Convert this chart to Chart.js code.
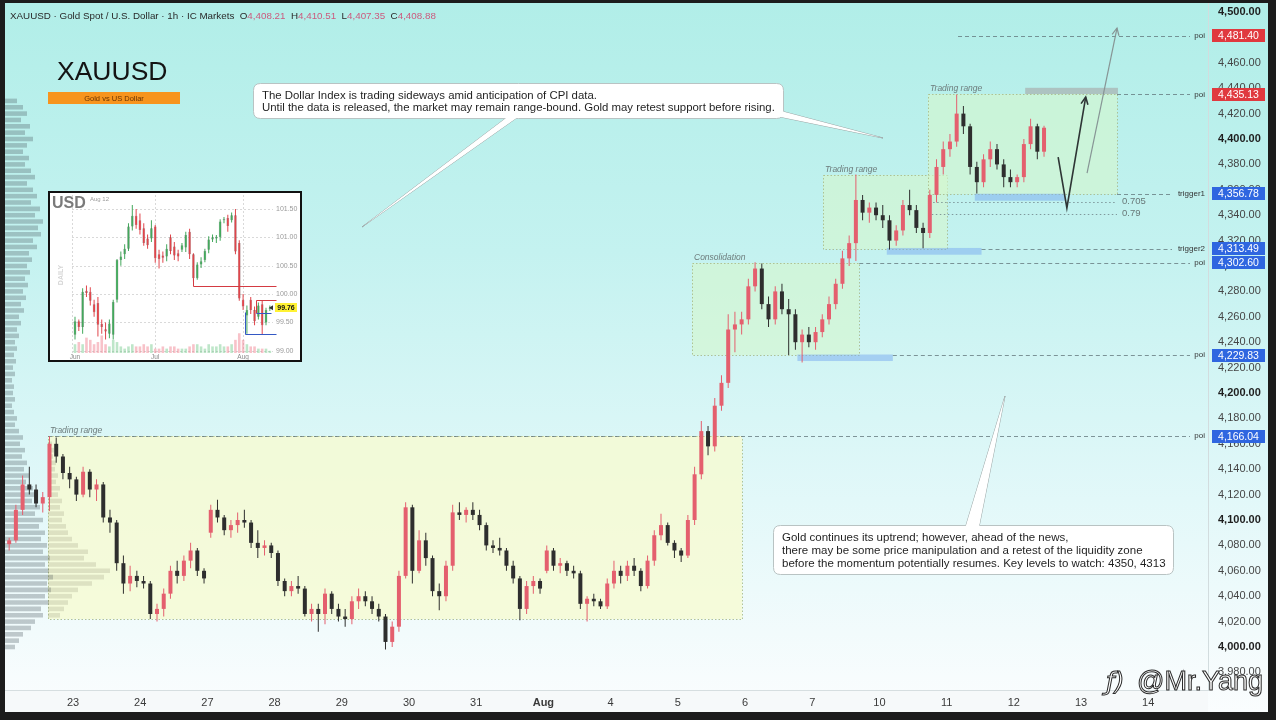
<!DOCTYPE html>
<html><head><meta charset="utf-8">
<script src="https://cdn.jsdelivr.net/npm/chart.js@4.4.1/dist/chart.umd.min.js"></script>
<style>
html,body{margin:0;padding:0;background:#1c1c1c;width:1276px;height:720px;overflow:hidden}
#main{position:absolute;left:0;top:0;display:block}
#insetWrap{position:absolute;left:48px;top:191px;width:250px;height:167px;border:2px solid #111;background:#fff}
#inset{display:block}
</style></head><body>
<canvas id="main" width="1276" height="720"></canvas>
<div id="insetWrap"><canvas id="inset" width="250" height="167"></canvas></div>
<script>
// ---------------- DATA: XAUUSD (2-hour style candles, 10 per session day) ----------------
const dayLabels = ['23','24','27','28','29','30','31','Aug','4','5','6','7','10','11','12','13','14'];
const candlesPerDay = 10;
const open = [4081,4084,4108,4128,4124,4113,4118,4160,4150,4137, 4132,4120,4138,4124,4128,4102,4098,4066,4050,4056, 4052,4050,4026,4030,4042,4060,4056,4068,4076,4060, 4090,4108,4102,4092,4096,4100,4098,4082,4078,4080, 4074,4052,4044,4048,4046,4026,4030,4026,4042,4030, 4024,4022,4036,4040,4036,4030,4024,4004,4016,4056, 4110,4060,4084,4070,4044,4040,4064,4106,4104,4108, 4104,4096,4080,4078,4076,4064,4054,4030,4048,4052, 4060,4076,4064,4066,4060,4058,4034,4038,4036,4032, 4050,4060,4056,4064,4060,4048,4068,4088,4096,4082, 4076,4072,4100,4136,4170,4158,4190,4208,4250,4254, 4258,4284,4298,4270,4258,4280,4266,4262,4240,4246, 4240,4248,4258,4270,4286,4306,4318,4352,4342,4346, 4340,4336,4320,4328,4348,4344,4330,4326,4356,4378, 4392,4398,4420,4410,4378,4366,4384,4392,4380,4370, 4366,4370,4396,4410,4390];
const high = [4086,4112,4135,4142,4128,4122,4166,4165,4152,4142, 4134,4142,4140,4132,4130,4108,4100,4072,4064,4060, 4056,4052,4034,4046,4064,4068,4072,4082,4078,4062, 4112,4116,4104,4100,4106,4108,4100,4092,4084,4082, 4076,4054,4052,4056,4048,4034,4034,4046,4044,4034, 4030,4040,4046,4044,4040,4034,4026,4020,4060,4114, 4112,4092,4090,4072,4050,4068,4112,4114,4110,4114, 4108,4098,4084,4086,4078,4068,4056,4052,4056,4054, 4080,4078,4070,4068,4064,4060,4040,4042,4038,4054, 4068,4064,4068,4070,4062,4072,4092,4105,4098,4084, 4078,4104,4142,4178,4174,4196,4214,4262,4264,4264, 4290,4303,4302,4276,4284,4286,4274,4266,4250,4252, 4252,4262,4276,4290,4312,4324,4372,4356,4350,4350, 4348,4340,4332,4352,4360,4348,4334,4360,4384,4398, 4404,4435,4426,4412,4382,4388,4398,4396,4384,4376, 4372,4400,4416,4412,4410.51];
const low = [4076,4082,4104,4120,4110,4106,4107,4145,4132,4125, 4115,4118,4118,4115,4098,4090,4060,4042,4044,4047, 4046,4022,4020,4024,4038,4050,4052,4062,4056,4050, 4086,4098,4088,4086,4090,4094,4078,4070,4072,4070, 4048,4040,4040,4042,4024,4020,4012,4018,4026,4020, 4016,4018,4030,4032,4026,4020,3998,4000,4012,4054, 4050,4058,4064,4040,4029,4036,4060,4100,4098,4100, 4092,4076,4074,4072,4060,4050,4021,4026,4042,4042, 4058,4060,4058,4056,4054,4030,4020,4032,4030,4030, 4046,4050,4052,4056,4044,4046,4064,4084,4080,4070, 4067,4070,4096,4132,4151,4154,4186,4204,4232,4246, 4254,4280,4266,4252,4254,4262,4230,4234,4224,4236, 4234,4244,4254,4266,4282,4300,4304,4336,4334,4336, 4330,4313,4316,4324,4340,4326,4314,4322,4350,4372, 4386,4394,4404,4372,4357,4362,4378,4376,4362,4362, 4362,4366,4392,4384,4386];
const close = [4084,4108,4128,4124,4113,4118,4160,4150,4137,4132, 4120,4138,4124,4128,4102,4098,4066,4050,4056,4052, 4050,4026,4030,4042,4060,4056,4068,4076,4060,4054, 4108,4102,4092,4096,4100,4098,4082,4078,4080,4074, 4052,4044,4048,4046,4026,4030,4026,4042,4030,4024, 4022,4036,4040,4036,4030,4024,4004,4016,4056,4110, 4060,4084,4070,4044,4040,4064,4106,4104,4108,4104, 4096,4080,4078,4076,4064,4054,4030,4048,4052,4046, 4076,4064,4066,4060,4058,4034,4038,4036,4032,4050, 4060,4056,4064,4060,4048,4068,4088,4096,4082,4076, 4072,4100,4136,4170,4158,4190,4208,4250,4254,4258, 4284,4298,4270,4258,4280,4266,4262,4240,4246,4240, 4248,4258,4270,4286,4306,4318,4352,4342,4346,4340, 4336,4320,4328,4348,4344,4330,4326,4356,4378,4392, 4398,4420,4410,4378,4366,4384,4392,4380,4370,4366, 4370,4396,4410,4390,4408.88];
const headerOHLC = [4408.21, 4410.51, 4407.35, 4408.88];
const priceTicks = [3980,4000,4020,4040,4060,4080,4100,4120,4140,4160,4180,4200,4220,4240,4260,4280,4300,4320,4340,4360,4380,4400,4420,4440,4460,4480,4500];

// key levels
const levelPrices = [4481.40, 4435.13, 4356.78, 4313.49, 4302.60, 4229.83, 4166.04];
const levelNames  = ['poi','poi','trigger1','trigger2','poi','poi','poi'];
const levelSide   = ['sell','sell','buy','buy','buy','buy','buy'];
const fibNames  = ['0.705','0.79'];
const fibPrices = [4350.6, 4341.2];

// volume profile (session, left edge)
const profilePrices = [4430,4425,4420,4415,4410,4405,4400,4395,4390,4385,4380,4375,4370,4365,4360,4355,4350,4345,4340,4335,4330,4325,4320,4315,4310,4305,4300,4295,4290,4285,4280,4275,4270,4265,4260,4255,4250,4245,4240,4235,4230,4225,4220,4215,4210,4205,4200,4195,4190,4185,4180,4175,4170,4165,4160,4155,4150,4145,4140,4135,4130,4125,4120,4115,4110,4105,4100,4095,4090,4085,4080,4075,4070,4065,4060,4055,4050,4045,4040,4035,4030,4025,4020,4015,4010,4005,4000];
const profileVol = [12,18,22,16,25,20,28,22,18,24, 20,26,30,22,28,32,26,35,30,38, 33,36,28,32,24,27,22,25,20,23, 18,21,16,19,14,16,12,14,10,12, 9,11,8,10,7,9,8,10,7,9, 12,10,14,18,15,20,17,22,19,24, 21,28,32,27,35,30,38,34,40,36, 42,38,45,40,44,48,42,46,40,44, 36,38,30,26,18,14,10];
// volume profile of the first trading range
const rangeProfilePrices = [4160,4155,4150,4145,4140,4135,4130,4125,4120,4115,4110,4105,4100,4095,4090,4085,4080,4075,4070,4065,4060,4055,4050,4045,4040,4035,4030,4025];
const rangeProfileVol = [4,6,5,8,7,10,8,12,10,14,12,16,14,18,20,24,30,40,36,48,62,56,44,30,24,20,16,12];

// ---------------- DATA: USD index inset (daily) ----------------
const usdMonthLabels = ['Jun','Jul','Aug'];
const usdMonthStart = [0, 21, 44];
const usdTicks = [99.00, 99.50, 100.00, 100.50, 101.00, 101.50];
const usdOpen  = [99.28,99.52,99.42,100.06,100.04,99.82,99.84,99.47,99.38,99.30,99.28,99.90,100.60,100.70,100.80,101.19,101.38,101.30,101.16,100.98,100.98,101.19,100.70,100.68,100.66,101.00,100.84,100.72,100.78,100.82,101.10,100.70,100.28,100.52,100.60,100.78,100.96,100.98,101.00,101.30,101.34,101.30,101.39,100.90,99.90,99.62,99.90,99.72,99.60,99.82,99.50,99.74];
const usdHigh  = [99.60,99.55,100.10,100.15,100.12,99.90,99.95,99.55,99.50,99.55,99.90,100.62,100.75,100.88,101.25,101.57,101.50,101.42,101.25,101.05,101.30,101.22,100.78,100.75,100.88,101.05,100.92,100.78,100.90,101.10,101.15,100.72,100.56,100.65,100.80,101.02,101.05,101.04,101.32,101.36,101.40,101.44,101.50,100.95,100.00,99.80,99.95,99.78,99.85,99.88,99.76,99.80];
const usdLow   = [99.20,99.35,99.30,99.95,99.80,99.60,99.25,99.30,99.20,99.22,99.20,99.85,100.50,100.62,100.76,101.12,101.15,101.05,100.85,100.80,100.92,100.55,100.45,100.55,100.58,100.70,100.60,100.58,100.74,100.74,100.62,100.22,100.25,100.46,100.56,100.72,100.92,100.90,100.94,101.25,101.10,101.26,100.70,99.88,99.72,99.30,99.65,99.45,99.55,99.28,99.45,99.70];
const usdClose = [99.52,99.42,100.04,100.02,99.88,99.68,99.46,99.42,99.34,99.48,99.86,100.60,100.66,100.80,101.19,101.38,101.22,101.13,100.90,100.86,101.16,100.63,100.62,100.64,100.80,100.76,100.68,100.66,100.86,101.04,100.70,100.28,100.52,100.58,100.76,100.96,101.00,101.01,101.28,101.32,101.20,101.39,100.75,99.92,99.78,99.72,99.72,99.52,99.80,99.45,99.72,99.76];
const usdVol   = [4,5,4,7,6,4,5,8,4,3, 6,5,3,2,3,4,3,3,4,3, 4,2,2,3,2,3,3,2,2,2, 3,4,4,3,2,4,3,3,4,3, 3,4,6,9,6,4,3,3,2,2, 2,1];

// ---------------- STYLE / ANNOTATION CONFIG ----------------
const fam = '"Liberation Sans", Arial, Helvetica, sans-serif';
Chart.defaults.font.family = fam;
const upColor = '#e45f6e', downColor = '#2e2e2e';
const fmt = v => v.toLocaleString('en-US', {minimumFractionDigits:2, maximumFractionDigits:2});

const rangeBoxes = [
  {name:'Trading range', t0:0.628, t1:10.96, top:4166.04, bottom:4022.0, fill:'rgba(246,250,212,0.85)'},
  {name:'Consolidation', t0:10.211, t1:12.70, top:4302.60, bottom:4229.83, fill:'rgba(214,246,205,0.6)'},
  {name:'Trading range', t0:12.161, t1:14.006, top:4371.6, bottom:4313.49, fill:'rgba(214,246,205,0.6)'},
  {name:'Trading range', t0:13.723, t1:16.536, top:4435.13, bottom:4356.78, fill:'rgba(214,246,205,0.6)'}
];
const liquidityZones = [
  {t0:11.78, t1:13.20, p0:4230.3, p1:4225.2, color:'rgba(120,170,240,0.5)'},
  {t0:13.11, t1:14.52, p0:4314.2, p1:4308.9, color:'rgba(120,170,240,0.5)'},
  {t0:14.42, t1:15.76, p0:4356.9, p1:4351.4, color:'rgba(120,170,240,0.5)'},
  {t0:15.17, t1:16.55, p0:4440.3, p1:4435.4, color:'rgba(165,165,165,0.6)'}
];
const levelStartT = [14.17, 16.536, 16.536, 14.52, 12.70, 13.20, 0.628];
const fibStartT = [13.80, 13.78];
const fibEndT = 16.536;

const candleColors = close.map((c,i) => c >= open[i] ? upColor : downColor);
const xOf = i => (i + 0.5) / candlesPerDay;

function roundRect(c, x, y, w, h, r) {
  c.beginPath();
  c.moveTo(x + r, y); c.lineTo(x + w - r, y); c.quadraticCurveTo(x + w, y, x + w, y + r);
  c.lineTo(x + w, y + h - r); c.quadraticCurveTo(x + w, y + h, x + w - r, y + h);
  c.lineTo(x + r, y + h); c.quadraticCurveTo(x, y + h, x, y + h - r);
  c.lineTo(x, y + r); c.quadraticCurveTo(x, y, x + r, y); c.closePath();
}
function arrowHead(c, x, y, ang, len) {
  c.beginPath();
  c.moveTo(x - len * Math.cos(ang - 0.45), y - len * Math.sin(ang - 0.45));
  c.lineTo(x, y);
  c.lineTo(x - len * Math.cos(ang + 0.45), y - len * Math.sin(ang + 0.45));
  c.stroke();
}
function callout(c, box, wedges, lines, size) {
  c.save();
  c.lineWidth = 1;
  wedges.forEach(w => {
    c.beginPath(); c.moveTo(w[0][0], w[0][1]); c.lineTo(w[1][0], w[1][1]); c.lineTo(w[2][0], w[2][1]); c.closePath();
    c.fillStyle = '#ffffff'; c.fill(); c.strokeStyle = '#9aa6a6'; c.stroke();
  });
  roundRect(c, box[0] + 0.5, box[1] + 0.5, box[2], box[3], 7);
  c.fillStyle = '#ffffff'; c.fill(); c.strokeStyle = '#b9c3c3'; c.stroke();
  wedges.forEach(w => {
    c.beginPath(); c.moveTo(w[0][0], w[0][1]); c.lineTo(w[1][0], w[1][1]); c.lineTo(w[2][0], w[2][1]); c.closePath();
    c.fillStyle = '#ffffff'; c.fill();
  });
  c.fillStyle = '#1f1f1f'; c.font = size + 'px ' + fam; c.textAlign = 'left'; c.textBaseline = 'alphabetic';
  lines.forEach((t, k) => c.fillText(t[0], box[0] + 9, t[1]));
  c.restore();
}

const decor = {
  id: 'decor',
  beforeDraw(chart) {
    const c = chart.ctx;
    c.save();
    c.fillStyle = '#1c1c1c'; c.fillRect(0, 0, chart.width, chart.height);
    const g = c.createLinearGradient(0, 3, 0, 712);
    g.addColorStop(0, '#b1eee8'); g.addColorStop(0.35, '#c4f2f0'); g.addColorStop(0.7, '#e2f8f9'); g.addColorStop(0.95, '#f7fcfd'); g.addColorStop(1, '#fafdfe');
    c.fillStyle = g; c.fillRect(5, 3, 1263, 709);
    c.fillStyle = '#f6f9fa'; c.fillRect(5, 690, 1203, 22);
    c.restore();
  },
  beforeDatasetsDraw(chart) {
    const c = chart.ctx, xs = chart.scales.x, ys = chart.scales.y;
    const X = t => xs.getPixelForValue(t), Y = p => ys.getPixelForValue(p);
    c.save();
    rangeBoxes.forEach(b => {
      const x0 = Math.round(X(b.t0)), x1 = Math.round(X(b.t1)), y0 = Math.round(Y(b.top)), y1 = Math.round(Y(b.bottom));
      c.fillStyle = b.fill; c.fillRect(x0, y0, x1 - x0, y1 - y0);
      c.strokeStyle = 'rgba(170,188,140,0.9)'; c.lineWidth = 1; c.setLineDash([1.5, 2]);
      c.strokeRect(x0 + 0.5, y0 + 0.5, x1 - x0, y1 - y0);
      c.setLineDash([]);
      c.font = 'italic 8.5px ' + fam; c.fillStyle = '#6d7c7c'; c.textAlign = 'left'; c.textBaseline = 'alphabetic';
      c.fillText(b.name, x0 + 2, y0 - 3);
    });
    liquidityZones.forEach(z => {
      const x0 = X(z.t0), x1 = X(z.t1), y0 = Y(z.p0), y1 = Y(z.p1);
      c.fillStyle = z.color; c.fillRect(x0, y0, x1 - x0, y1 - y0);
    });
    c.lineWidth = 1;
    levelPrices.forEach((p, k) => {
      const y = Math.round(Y(p)) + 0.5, x0 = X(levelStartT[k]), x1 = levelNames[k] === 'poi' ? 1190 : 1172;
      c.strokeStyle = 'rgba(95,115,120,0.75)'; c.setLineDash([4, 3]);
      c.beginPath(); c.moveTo(x0, y); c.lineTo(x1, y); c.stroke();
    });
    fibPrices.forEach((p, k) => {
      const y = Math.round(Y(p)) + 0.5;
      c.strokeStyle = 'rgba(110,130,135,0.8)'; c.setLineDash([1.5, 2.5]);
      c.beginPath(); c.moveTo(X(fibStartT[k]), y); c.lineTo(X(fibEndT), y); c.stroke();
    });
    c.restore();
  },
  afterDatasetsDraw(chart) {
    const c = chart.ctx, xs = chart.scales.x, ys = chart.scales.y;
    const X = t => xs.getPixelForValue(t), Y = p => ys.getPixelForValue(p);
    c.save();
    // fib labels
    c.font = '9.5px ' + fam; c.fillStyle = '#687878'; c.textAlign = 'left'; c.textBaseline = 'middle';
    fibPrices.forEach((p, k) => c.fillText(fibNames[k], X(fibEndT) + 5, Y(p)));
    // level names + price tags
    levelPrices.forEach((p, k) => {
      const y = Y(p);
      c.font = '8px ' + fam; c.fillStyle = '#333'; c.textAlign = 'right'; c.textBaseline = 'middle';
      c.fillText(levelNames[k], 1205, y);
      c.fillStyle = levelSide[k] === 'sell' ? '#e0393f' : '#2f66e0';
      c.fillRect(1212, Math.round(y - 6.5), 53, 13);
      c.fillStyle = '#ffffff'; c.font = '10.5px ' + fam; c.textAlign = 'center';
      c.fillText(fmt(p), 1238.5, y + 0.5);
    });
    // scenario arrows
    const A = [X(15.66), Y(4385.8)], B = [X(15.79), Y(4345.7)], C = [X(16.07), Y(4433)];
    c.strokeStyle = '#2e3535'; c.lineWidth = 1.6; c.setLineDash([]);
    c.beginPath(); c.moveTo(A[0], A[1]); c.lineTo(B[0], B[1]); c.lineTo(C[0], C[1]); c.stroke();
    arrowHead(c, C[0], C[1], Math.atan2(C[1] - B[1], C[0] - B[0]), 8);
    const D = [X(16.09), Y(4373.2)], E = [X(16.536), Y(4487.4)];
    c.strokeStyle = '#879595'; c.lineWidth = 1.2;
    c.beginPath(); c.moveTo(D[0], D[1]); c.lineTo(E[0], E[1]); c.stroke();
    arrowHead(c, E[0], E[1], Math.atan2(E[1] - D[1], E[0] - D[0]), 8);
    // callouts
    callout(c, [253, 83, 530, 35],
      [[[514, 112], [525, 112], [362, 227]], [[762, 106], [776, 116], [883, 138]]],
      [['The Dollar Index is trading sideways amid anticipation of CPI data.', 99],
       ['Until the data is released, the market may remain range-bound. Gold may retest support before rising.', 111]], 11.4);
    callout(c, [773, 525, 400, 49],
      [[[964, 532], [978, 532], [1005, 396]]],
      [['Gold continues its uptrend; however, ahead of the news,', 541],
       ['there may be some price manipulation and a retest of the liquidity zone', 554],
       ['before the momentum potentially resumes. Key levels to watch: 4350, 4313', 567]], 11.5);
    // title block
    c.fillStyle = '#141414'; c.font = '26.5px ' + fam; c.textAlign = 'left'; c.textBaseline = 'alphabetic';
    c.fillText('XAUUSD', 57, 80);
    c.fillStyle = '#f7941d'; c.fillRect(48, 92, 132, 12);
    c.fillStyle = '#6a3300'; c.font = '7.5px ' + fam; c.textAlign = 'center'; c.textBaseline = 'middle';
    c.fillText('Gold vs US Dollar', 114, 98.5);
    // header
    c.font = '9.8px ' + fam; c.textAlign = 'left'; c.textBaseline = 'alphabetic';
    let hx = 10; const hy = 19;
    const segs = [['XAUUSD · Gold Spot / U.S. Dollar · 1h · IC Markets  ', '#2a2a2a'],
      ['O', '#2a2a2a'], [fmt(headerOHLC[0]) + '  ', '#cc5a7e'], ['H', '#2a2a2a'], [fmt(headerOHLC[1]) + '  ', '#cc5a7e'],
      ['L', '#2a2a2a'], [fmt(headerOHLC[2]) + '  ', '#cc5a7e'], ['C', '#2a2a2a'], [fmt(headerOHLC[3]), '#cc5a7e']];
    segs.forEach(s => { c.fillStyle = s[1]; c.fillText(s[0], hx, hy); hx += c.measureText(s[0]).width; });
    // watermark
    c.font = '27px ' + fam; c.textAlign = 'left'; c.textBaseline = 'alphabetic';
    c.lineWidth = 1; c.strokeStyle = '#2a2a2a'; c.fillStyle = '#ffffff';
    c.fillText('@Mr.Yang', 1137, 690); c.strokeText('@Mr.Yang', 1137, 690);
    c.font = 'italic 25px "DejaVu Sans", sans-serif';
    c.fillText('ƒ)', 1106, 690); c.strokeText('ƒ)', 1106, 690);
    c.restore();
  }
};

new Chart(document.getElementById('main'), {
  type: 'bar',
  data: { datasets: [
    { label: 'profile', indexAxis: 'y', xAxisID: 'xv', yAxisID: 'yp',
      data: profilePrices.map((p, k) => ({ y: p, x: profileVol[k] })),
      backgroundColor: 'rgba(70,82,88,0.30)', maxBarThickness: 4.6, grouped: false, order: 4 },
    { label: 'rangeProfile', indexAxis: 'y', xAxisID: 'xv', yAxisID: 'yp',
      data: rangeProfilePrices.map((p, k) => ({ y: p, x: [43, 43 + rangeProfileVol[k]] })),
      backgroundColor: 'rgba(150,150,125,0.25)', maxBarThickness: 4.6, grouped: false, order: 3 },
    { label: 'wick', xAxisID: 'x', yAxisID: 'y',
      data: close.map((c, i) => ({ x: xOf(i), y: [low[i], high[i]] })),
      backgroundColor: candleColors, maxBarThickness: 1, grouped: false, order: 2 },
    { label: 'body', xAxisID: 'x', yAxisID: 'y',
      data: close.map((c, i) => ({ x: xOf(i), y: [open[i], close[i]] })),
      backgroundColor: candleColors, maxBarThickness: 4, minBarLength: 1, grouped: false, order: 1 }
  ]},
  options: {
    responsive: false, animation: false, devicePixelRatio: 1,
    layout: { padding: { left: 5, top: 3, right: 8, bottom: 8 } },
    plugins: { legend: { display: false }, tooltip: { enabled: false } },
    scales: {
      x: { type: 'linear', min: -0.012, max: 17.89, offset: false,
        grid: { display: false, drawTicks: false }, border: { display: true, color: '#d6dee0' },
        ticks: { autoSkip: false, maxRotation: 0, padding: 6,
          color: '#3a3a3a',
          font: ctx => ({ family: fam, size: 11, weight: (ctx.tick && dayLabels[ctx.tick.value - 1] === 'Aug') ? 'bold' : 'normal' }),
          callback: v => dayLabels[v - 1] },
        afterBuildTicks: s => { s.ticks = dayLabels.map((_, k) => ({ value: k + 1 })); },
        afterFit: s => { s.height = 22; s.paddingLeft = 0; s.paddingRight = 0; } },
      xv: { type: 'linear', min: 0, max: 1203, display: false, offset: false },
      y: { type: 'linear', position: 'right', min: 3966.15, max: 4507.09, offset: false,
        grid: { display: false, drawTicks: false }, border: { display: true, color: '#d2dcde' },
        ticks: { padding: 10,
          color: ctx => (ctx.tick && ctx.tick.value % 100 === 0) ? '#1e1e1e' : '#454545',
          font: ctx => ({ family: fam, size: 11, weight: (ctx.tick && ctx.tick.value % 100 === 0) ? 'bold' : 'normal' }),
          callback: v => fmt(v) },
        afterBuildTicks: s => { s.ticks = priceTicks.map(v => ({ value: v })); },
        afterFit: s => { s.width = 60; s.paddingTop = 0; s.paddingBottom = 0; } },
      yp: { type: 'linear', min: 3966.15, max: 4507.09, display: false, offset: false }
    }
  },
  plugins: [decor]
});

// ---------------- inset USD chart ----------------
const usdUp = '#43a85c', usdDown = '#e0454b';
const usdColors = usdClose.map((c, i) => c >= usdOpen[i] ? usdUp : usdDown);
const usdVolColors = usdClose.map((c, i) => c >= usdOpen[i] ? 'rgba(110,200,135,0.45)' : 'rgba(240,120,135,0.45)');
const usdMarks = {
  red: [[[31, 100.28], [31, 100.15], [52.6, 100.15]], [[47.4, 99.66], [47.4, 99.90], [52.6, 99.90]]],
  blue: [[[44.5, 99.69], [44.5, 99.29], [52.6, 99.29]], [[47.4, 99.66], [51.4, 99.66]]]
};
const insetDecor = {
  id: 'insetDecor',
  beforeDraw(ch) { const c = ch.ctx; c.save(); c.fillStyle = '#ffffff'; c.fillRect(0, 0, ch.width, ch.height); c.restore(); },
  beforeDatasetsDraw(ch) {
    const c = ch.ctx, xs = ch.scales.x, ys = ch.scales.y, a = ch.chartArea;
    c.save(); c.strokeStyle = '#d9d9d9'; c.lineWidth = 1; c.setLineDash([2, 2]);
    usdTicks.forEach(v => { const y = Math.round(ys.getPixelForValue(v)) + 0.5; c.beginPath(); c.moveTo(a.left, y); c.lineTo(a.right, y); c.stroke(); });
    [a.left].concat(usdMonthStart.slice(1).map(v => xs.getPixelForValue(v))).forEach(x => { x = Math.round(x) + 0.5; c.beginPath(); c.moveTo(x, a.top); c.lineTo(x, a.bottom); c.stroke(); });
    c.setLineDash([]);
    c.fillStyle = '#7a7a7a'; c.font = 'bold 16px ' + fam; c.textAlign = 'left'; c.textBaseline = 'alphabetic';
    c.fillText('USD', 2, 15);
    c.fillStyle = '#9a9a9a'; c.font = '6px ' + fam; c.fillText('Aug 12', 40, 8);
    c.save(); c.translate(13, 82); c.rotate(-Math.PI / 2); c.fillStyle = '#d5d5d5'; c.font = 'bold 7px ' + fam; c.textAlign = 'center'; c.fillText('DAILY', 0, 0); c.restore();
    c.restore();
  },
  afterDatasetsDraw(ch) {
    const c = ch.ctx, xs = ch.scales.x, ys = ch.scales.y;
    const P = pt => [Math.round(xs.getPixelForValue(pt[0])) + 0.5, Math.round(ys.getPixelForValue(pt[1])) + 0.5];
    c.save(); c.lineWidth = 1;
    const poly = (pts, col) => { c.strokeStyle = col; c.beginPath(); pts.forEach((p, k) => { const q = P(p); if (k) c.lineTo(q[0], q[1]); else c.moveTo(q[0], q[1]); }); c.stroke(); };
    usdMarks.red.forEach(p => poly(p, '#d43a42'));
    usdMarks.blue.forEach(p => poly(p, '#3358c4'));
    const yT = ys.getPixelForValue(usdClose[usdClose.length - 1]);
    c.fillStyle = '#fff234'; c.fillRect(225, Math.round(yT - 4.5), 22, 9);
    c.fillStyle = '#111'; c.font = 'bold 7px ' + fam; c.textAlign = 'center'; c.textBaseline = 'middle';
    c.fillText(usdClose[usdClose.length - 1].toFixed(2), 236, yT + 0.5);
    c.fillStyle = '#333'; c.beginPath(); c.moveTo(219, yT); c.lineTo(223, yT - 2.5); c.lineTo(223, yT + 2.5); c.closePath(); c.fill();
    c.restore();
  }
};
new Chart(document.getElementById('inset'), {
  type: 'bar',
  data: { datasets: [
    { label: 'vol', xAxisID: 'x', yAxisID: 'yv', data: usdVol.map((v, i) => ({ x: i, y: v })),
      backgroundColor: usdVolColors, maxBarThickness: 2.6, grouped: false, order: 3 },
    { label: 'wick', xAxisID: 'x', yAxisID: 'y', data: usdClose.map((c, i) => ({ x: i, y: [usdLow[i], usdHigh[i]] })),
      backgroundColor: usdColors, maxBarThickness: 1, grouped: false, order: 2 },
    { label: 'body', xAxisID: 'x', yAxisID: 'y', data: usdClose.map((c, i) => ({ x: i, y: [usdOpen[i], c] })),
      backgroundColor: usdColors, borderColor: 'rgba(40,40,40,0.5)', borderWidth: 0.5, borderSkipped: false,
      maxBarThickness: 2.8, minBarLength: 1, grouped: false, order: 1 }
  ]},
  options: {
    responsive: false, animation: false, devicePixelRatio: 1,
    layout: { padding: { left: 22, top: 2, right: 0, bottom: 0 } },
    plugins: { legend: { display: false }, tooltip: { enabled: false } },
    scales: {
      x: { type: 'linear', min: -0.785, max: 51.83, offset: false, grid: { display: false, drawTicks: false }, border: { display: false },
        ticks: { autoSkip: false, maxRotation: 0, padding: 0, color: '#8a8a8a', font: { size: 6.5, family: fam },
          callback: v => usdMonthLabels[usdMonthStart.indexOf(v)] },
        afterBuildTicks: s => { s.ticks = usdMonthStart.map(v => ({ value: v })); },
        afterFit: s => { s.height = 7; s.paddingLeft = 0; s.paddingRight = 0; } },
      y: { type: 'linear', position: 'right', min: 98.96, max: 101.747, offset: false, grid: { display: false, drawTicks: false }, border: { display: false },
        ticks: { padding: 3, color: '#9a9a9a', font: { size: 7, family: fam }, callback: v => v.toFixed(2) },
        afterBuildTicks: s => { s.ticks = usdTicks.map(v => ({ value: v })); },
        afterFit: s => { s.width = 27; s.paddingTop = 0; s.paddingBottom = 0; } },
      yv: { type: 'linear', min: 0, max: 72, display: false, offset: false }
    }
  },
  plugins: [insetDecor]
});
</script>
</body></html>
